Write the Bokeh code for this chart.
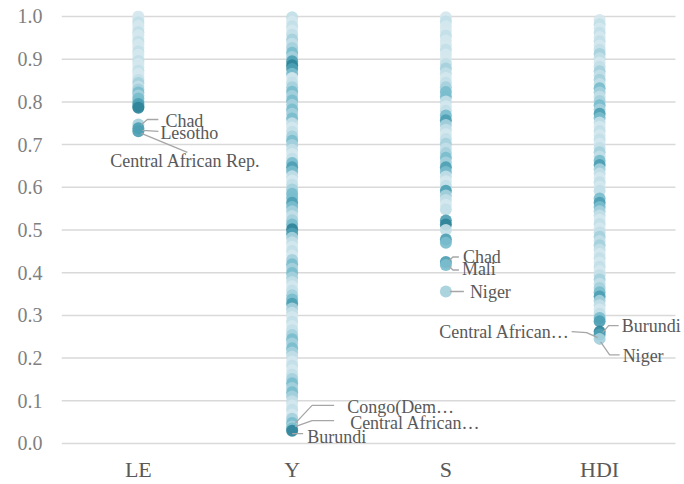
from bokeh.plotting import figure
from bokeh.models import Range1d, FixedTicker, PrintfTickFormatter, ColumnDataSource, LabelSet
from bokeh.embed import file_html
from bokeh.resources import INLINE

# ---------------- data ----------------
categories = ["LE", "Y", "S", "HDI"]
y_ticks = [0.0, 0.1, 0.2, 0.3, 0.4, 0.5, 0.6, 0.7, 0.8, 0.9, 1.0]

LE_values = [1.000, 0.993, 0.986, 0.978, 0.971, 0.963, 0.956, 0.948, 0.941, 0.934,
             0.926, 0.918, 0.911, 0.903, 0.896, 0.889, 0.881, 0.873, 0.866, 0.858,
             0.851, 0.844, 0.836, 0.829, 0.822, 0.815, 0.808, 0.801, 0.795, 0.790,
             0.786, 0.747, 0.738, 0.731]
LE_tones = [0, 0, 1, 0, 0, 1, 0, 0, 1, 0,
            0, 1, 0, 0, 1, 0, 0, 1, 0, 0,
            1, 2, 1, 2, 3, 2, 3, 3, 4, 4,
            5, 2, 4, 4]

Y_values = [0.998, 0.988, 0.977, 0.967, 0.957, 0.946, 0.936, 0.926, 0.915, 0.905,
            0.895, 0.886, 0.877, 0.866, 0.856, 0.845, 0.834, 0.824, 0.814, 0.803,
            0.793, 0.782, 0.772, 0.761, 0.750, 0.740, 0.730, 0.719, 0.709, 0.699,
            0.688, 0.678, 0.667, 0.657, 0.647, 0.637, 0.626, 0.616, 0.606, 0.595,
            0.585, 0.575, 0.564, 0.554, 0.544, 0.533, 0.523, 0.513, 0.502, 0.492,
            0.482, 0.471, 0.461, 0.451, 0.440, 0.430, 0.420, 0.409, 0.399, 0.389,
            0.378, 0.368, 0.358, 0.347, 0.337, 0.327, 0.316, 0.306, 0.296, 0.285,
            0.275, 0.265, 0.254, 0.244, 0.234, 0.223, 0.213, 0.203, 0.192, 0.182,
            0.172, 0.161, 0.151, 0.141, 0.130, 0.120, 0.110, 0.099, 0.089, 0.079,
            0.068, 0.058, 0.048, 0.040, 0.035, 0.030]
Y_tones = [1, 0, 1, 0, 1, 2, 1, 2, 3, 2,
           4, 5, 4, 3, 0, 1, 2, 3, 2, 3,
           2, 3, 2, 3, 1, 0, 1, 2, 3, 2,
           1, 0, 1, 3, 4, 3, 1, 0, 1, 2,
           3, 3, 4, 3, 2, 1, 2, 3, 5, 4,
           2, 1, 0, 1, 0, 2, 3, 2, 3, 2,
           1, 0, 1, 2, 3, 4, 2, 1, 0, 1,
           0, 1, 2, 3, 2, 3, 2, 1, 0, 1,
           0, 1, 2, 3, 2, 3, 2, 1, 0, 1,
           0, 2, 3, 2, 3, 5]

S_values = [0.998, 0.988, 0.977, 0.966, 0.955, 0.944, 0.933, 0.922, 0.911, 0.900,
            0.889, 0.878, 0.867, 0.856, 0.845, 0.834, 0.823, 0.812, 0.801, 0.790,
            0.779, 0.768, 0.757, 0.746, 0.735, 0.724, 0.713, 0.702, 0.691, 0.680,
            0.669, 0.658, 0.647, 0.636, 0.625, 0.614, 0.603, 0.592, 0.581, 0.570,
            0.559, 0.548, 0.522, 0.513, 0.500, 0.478, 0.470, 0.425, 0.418, 0.356]
S_tones = [0, 1, 0, 0, 1, 0, 0, 1, 0, 0,
           1, 2, 1, 0, 1, 2, 3, 3, 1, 0,
           1, 3, 4, 2, 1, 0, 1, 2, 1, 2,
           3, 2, 4, 3, 1, 0, 1, 4, 2, 1,
           0, 1, 4, 5, 1, 4, 3, 4, 3, 2]

HDI_values = [0.992, 0.982, 0.972, 0.962, 0.952, 0.942, 0.932, 0.922, 0.912, 0.902,
              0.892, 0.882, 0.872, 0.862, 0.852, 0.842, 0.832, 0.822, 0.812, 0.802,
              0.792, 0.782, 0.772, 0.762, 0.752, 0.742, 0.732, 0.722, 0.712, 0.702,
              0.692, 0.682, 0.672, 0.662, 0.652, 0.642, 0.632, 0.622, 0.612, 0.602,
              0.592, 0.574, 0.564, 0.554, 0.544, 0.534, 0.524, 0.514, 0.504, 0.494,
              0.484, 0.474, 0.464, 0.454, 0.444, 0.434, 0.424, 0.414, 0.404, 0.394,
              0.384, 0.374, 0.364, 0.354, 0.344, 0.334, 0.324, 0.314, 0.304, 0.294,
              0.286, 0.262, 0.255, 0.245]
HDI_tones = [0, 1, 0, 1, 0, 1, 0, 1, 2, 1,
             0, 1, 2, 1, 2, 1, 3, 2, 1, 2,
             3, 2, 4, 3, 1, 0, 1, 0, 1, 0,
             1, 2, 1, 3, 4, 2, 1, 0, 1, 0,
             1, 3, 4, 3, 2, 1, 0, 1, 0, 1,
             2, 1, 2, 1, 0, 1, 0, 1, 0, 1,
             2, 1, 2, 3, 4, 2, 1, 0, 1, 3,
             4, 5, 4, 2]

ann_category = ["LE", "LE", "LE", "Y", "Y", "Y", "S", "S", "S", "HDI", "HDI", "HDI"]
ann_names = ["Chad", "Lesotho", "Central African Rep.",
             "Congo(Dem…", "Central African…", "Burundi",
             "Chad", "Mali", "Niger",
             "Burundi", "Central African…", "Niger"]
ann_values = [0.747, 0.738, 0.731, 0.040, 0.035, 0.030,
              0.425, 0.418, 0.356, 0.262, 0.255, 0.245]

# ---------------- style ----------------
palette = ["#d4e7ee", "#c2dee7", "#a5d0dc", "#7abdcd", "#4d9fb3", "#2f8399"]
FONT = "Liberation Serif"
# label placement (pixel offsets from the point): connector path, label anchor, align
ann_layout = [
    ([(3, 0), (9, -5), (20, -5)], (27, -4), "left"),
    ([(4, 2), (20, 3)], (22, 5), "left"),
    ([(3, 2), (49, 21)], (47, 30), "center"),
    ([(3, -3), (20, -21), (42, -21)], (55, -19), "left"),
    ([(3, -2), (20, -8), (42, -8)], (58, -6), "left"),
    ([(0, 3), (11, 3)], (15, 6), "left"),
    ([(3, -1), (7, -5), (13, -5)], (17, -5), "left"),
    ([(3, 1), (7, 5), (13, 5)], (16, 4), "left"),
    ([(4, 0), (18, 0)], (24, 1), "left"),
    ([(3, 1), (9, -6), (19, -6)], (22, -6), "left"),
    ([(-2, 3), (-13, -2), (-28, -3)], (-30, -3), "right"),
    ([(1, 3), (10, 16), (20, 16)], (23, 17), "left"),
]

W, H = 684, 484
BL, BT, BB = 61, 10, 34
AXIS_W = 615          # width in px of the 4-category band
Y0, Y1 = -0.0164, 1.014
frame_w = W - BL
frame_h = H - BT - BB
X1 = 4 * frame_w / AXIS_W
p = figure(width=W, height=H, output_backend="svg", toolbar_location=None,
           x_range=Range1d(0, X1), y_range=Range1d(Y0, Y1),
           min_border_left=BL, min_border_right=0, min_border_top=BT, min_border_bottom=BB)
p.outline_line_color = None
p.background_fill_color = "white"
p.border_fill_color = "white"

px_x = X1 / frame_w
px_y = (Y1 - Y0) / frame_h

# horizontal grid lines over the category band
p.segment(x0=[0] * len(y_ticks), x1=[4 - 1 * px_x] * len(y_ticks), y0=y_ticks, y1=y_ticks,
          line_color="#d9d9d9", line_width=1.5)

cat_x = {c: i + 0.5 for i, c in enumerate(categories)}
col_values = [LE_values, Y_values, S_values, HDI_values]
col_tones = [LE_tones, Y_tones, S_tones, HDI_tones]

for c, vals, tones in zip(categories, col_values, col_tones):
    src = ColumnDataSource(dict(x=[cat_x[c]] * len(vals), y=vals,
                                color=[palette[t] for t in tones]))
    p.scatter("x", "y", source=src, size=12, fill_color="color", fill_alpha=0.92,
              line_color=None)

# connectors and labels
xs, ys = [], []
lab = {"left": dict(x=[], y=[], t=[]), "right": dict(x=[], y=[], t=[]),
       "center": dict(x=[], y=[], t=[])}
for c, name, v, (path, (lx, ly), align) in zip(ann_category, ann_names, ann_values, ann_layout):
    x0 = cat_x[c]
    xs.append([x0 + dx * px_x for dx, dy in path])
    ys.append([v - dy * px_y for dx, dy in path])
    lab[align]["x"].append(x0 + lx * px_x)
    lab[align]["y"].append(v - ly * px_y)
    lab[align]["t"].append(name)

p.multi_line(xs, ys, line_color="#a6a6a6", line_width=1.3)
for align, d in lab.items():
    if d["t"]:
        ls = LabelSet(x="x", y="y", text="t", source=ColumnDataSource(d),
                      text_font=FONT, text_font_size="18px", text_color="#595959",
                      text_align=align, text_baseline="middle")
        p.add_layout(ls)

# axes
p.yaxis.ticker = FixedTicker(ticks=y_ticks)
p.yaxis.formatter = PrintfTickFormatter(format="%.1f")
p.xaxis.ticker = FixedTicker(ticks=[cat_x[c] for c in categories])
p.xaxis.major_label_overrides = {cat_x[c]: c for c in categories}
for ax in (p.xaxis, p.yaxis):
    ax.axis_line_color = None
    ax.major_tick_line_color = None
    ax.minor_tick_line_color = None
    ax.major_tick_out = 0
    ax.major_tick_in = 0
    ax.major_label_text_font = FONT
p.yaxis.major_label_text_font_size = "20px"
p.yaxis.major_label_text_color = "#7f7f7f"
p.yaxis.major_label_standoff = 19
p.xaxis.major_label_text_font_size = "22px"
p.xaxis.major_label_text_color = "#595959"
p.xaxis.major_label_standoff = 6

p.xgrid.grid_line_color = None
p.ygrid.grid_line_color = None

open("out.html", "w").write(file_html(p, INLINE))
